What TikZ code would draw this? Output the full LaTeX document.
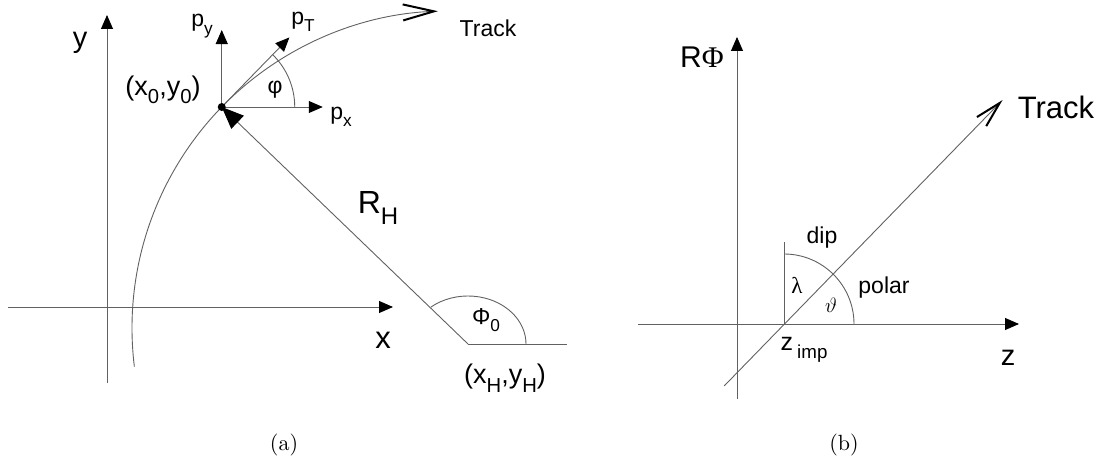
\documentclass[tikz,border=0pt]{standalone}
\usepackage[no-math]{fontspec}
\setsansfont{Liberation Sans}
\newfontfamily\grserif{Liberation Serif}
\newfontfamily\capfont{lmroman10-regular}[Extension=.otf]
\usetikzlibrary{arrows.meta}
\newcommand\lsub[1]{\raisebox{-0.32em}{\scalebox{0.75}{#1}}}
\begin{document}
\begin{tikzpicture}[x=1pt,y=1pt,
  ln/.style={draw=black!62, line width=0.9pt},
  ax/.style={ln, -{Triangle[length=14pt,width=12pt,color=black]}},
  lab/.style={inner sep=0pt, font=\sffamily\fontsize{#1}{#1}\selectfont},
  lab/.default=22,
  captxt/.style={inner sep=0pt, font=\capfont\fontsize{22}{22}\selectfont}]
\useasboundingbox (0,0) rectangle (1103,466);
% ---------- panel (a) ----------
\coordinate (yb) at (107,83);  \coordinate (yt) at (107,451);
\coordinate (xl) at (8,159);   \coordinate (xr) at (393,159);
\draw[ax] (yb) -- (yt);
\draw[ax] (xl) -- (xr);
\coordinate (C) at (449,138);
\coordinate (P) at ([shift={(135.8:317)}]C);
\coordinate (H) at (468,122);
\coordinate (He) at (567,122);
\coordinate (trS) at ([shift={(187:317)}]C);
\draw[ln, -{Straight Barb[length=31pt,width=16pt,line width=2pt,color=black]}]
  (trS) arc[start angle=187, end angle=92, radius=317];
\draw[ln, -{Triangle[length=22pt,width=18pt,color=black]}] (H) -- (P);
\draw[ln] ([shift={(130:58 and 48)}]H) arc[start angle=130, end angle=0, x radius=58, y radius=48];
\draw[ln] (H) -- (He);
\coordinate (pyT) at ([shift={(0,77)}]P);
\coordinate (pxT) at ([shift={(101,0)}]P);
\coordinate (ptT) at ([shift={(45.8:97)}]P);
\draw[ax] (P) -- (pyT);
\draw[ax] (P) -- (pxT);
\draw[ax] (P) -- (ptT);
\draw[ln] ([shift={(0:73)}]P) arc[start angle=0, end angle=45.8, radius=73];
\fill (P) circle[radius=4];
\node[lab=29] (ylab) at (80,423) {y};
\node[lab=27] (p0lab) at (163,376) {(x\lsub{0},y\lsub{0})};
\node[lab=23] (pylab) at (202,440) {p\lsub{y}};
\node[lab=23] (ptlab) at (303,444) {p\lsub{T}};
\node[lab=23] (trlabA) at (488,438) {Track};
\node[lab=23] (philab) at (275,376) {φ};
\node[lab=23] (pxlab) at (341,349) {p\lsub{x}};
\node[lab=32] (rhlab) at (378,258) {R\lsub{H}};
\node[lab=31] (xlab) at (383,126) {x};
\node[lab=23] (phi0lab) at (486,146) {Φ\lsub{0}};
\node[lab=27] (hlab) at (505,88) {(x\lsub{H},y\lsub{H})};
\node[captxt] (capa) at (284,21) {(a)};
% ---------- panel (b) ----------
\coordinate (Z0) at (784,142);
\coordinate (zl) at (638,142);  \coordinate (zr) at (1019,142);
\coordinate (rb) at (737,67);   \coordinate (rt) at (737,429);
\draw[ax] (zl) -- (zr);
\draw[ax] (rb) -- (rt);
\coordinate (tS) at ([shift={(226:86)}]Z0);
\coordinate (tE) at ([shift={(45.7:313)}]Z0);
\draw[ln, -{Straight Barb[length=26pt,width=13pt,line width=2pt,color=black]}] (tS) -- (tE);
\coordinate (vT) at ([shift={(0,82)}]Z0);
\draw[ln] (Z0) -- (vT);
\draw[ln] ([shift={(90:70)}]Z0) arc[start angle=90, end angle=0, radius=70];
\node[lab=30] (rphilab) at (702,409) {R{\grserif Φ}};
\node[lab=31] (trlabB) at (1056,359) {Track};
\node[lab=23] (diplab) at (822,228) {dip};
\node[lab=23] (lamlab) at (797,181) {{\grserif λ}};
\node[lab=22] (thlab) at (831,161) {$\vartheta$};
\node[lab=23] (pollab) at (884,178) {polar};
\node[lab=25] (zimplab) at (804,116) {z\,\lsub{imp}};
\node[lab=29] (zlab) at (1008,108) {z};
\node[captxt] (capb) at (844,21) {(b)};
\end{tikzpicture}
\end{document}
